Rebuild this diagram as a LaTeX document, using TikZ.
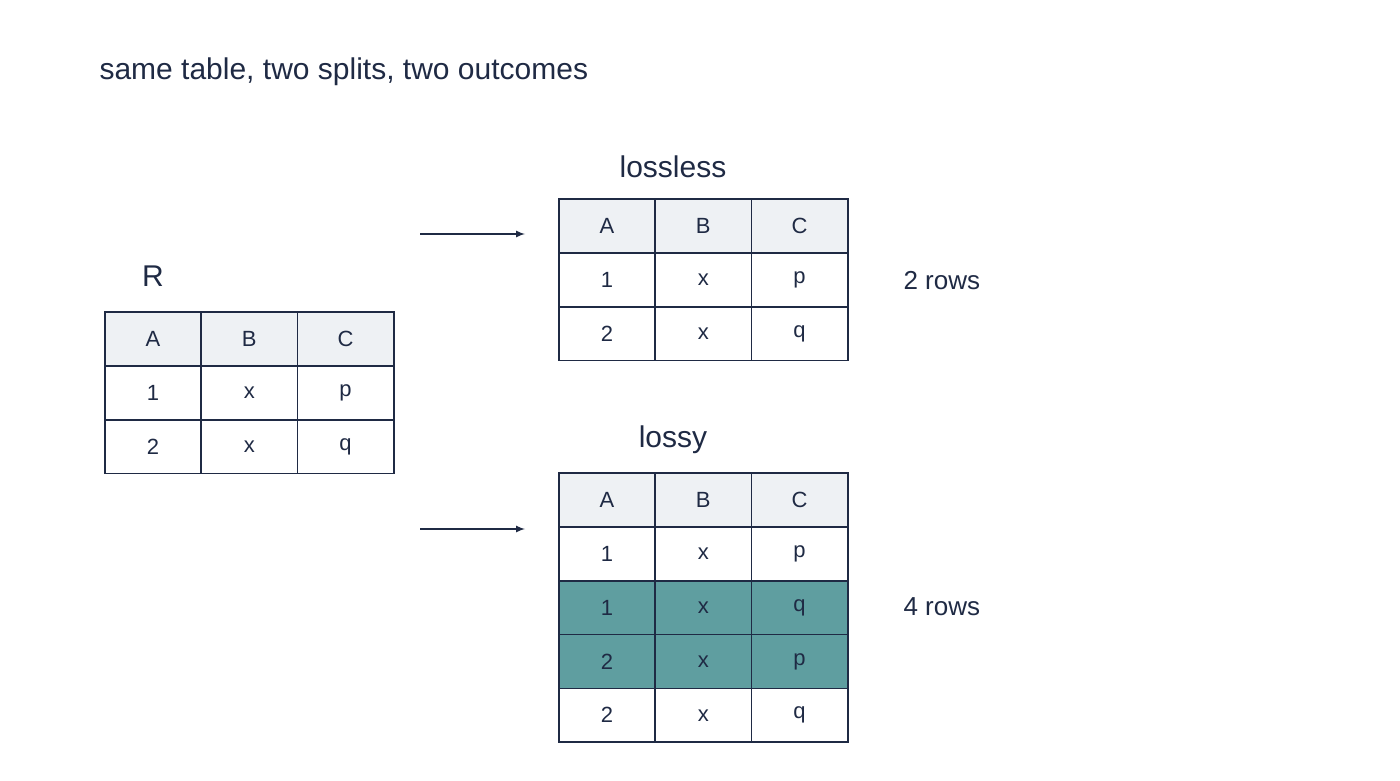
\documentclass[tikz,border=0pt]{standalone}
\usepackage{fontspec}
\setmainfont{Liberation Sans}
\usetikzlibrary{positioning}
\definecolor{ink}{HTML}{1F2A44}
\definecolor{headfill}{HTML}{EEF1F4}
\definecolor{teal}{HTML}{5F9EA0}
\begin{document}
\begin{tikzpicture}[x=1pt,y=-1pt]
		
		\tikzstyle{cell}=[rectangle,
		draw=ink,
		line width=1.6pt,
		fill=white,
		text=ink,
		inner sep=0pt,
		minimum width=96.3pt,
		minimum height=53.8pt,
		font=\fontsize{22}{24}\selectfont
		]
		\tikzstyle{head}=[cell,fill=headfill]
		\tikzstyle{bad}=[cell,fill=teal]
		\tikzstyle{label}=[text=ink,font=\fontsize{30}{34}\selectfont]
		\tikzstyle{note}=[text=ink,font=\fontsize{26}{30}\selectfont]
		
		\useasboundingbox (0,0) rectangle (1400,781);
		
		\node[label,anchor=west] (title) at (96,72) {same table, two splits, two outcomes};
		
		% table R
		\node[label] (r) at (153,276) {R};
		\foreach \c/\t [count=\i] in {A,B,C} {
			\node[head] (r0\i) at (105+48+96.3*\i-96.3,339) {\c};
		}
		\foreach \a/\b/\cc [count=\j] in {1/x/p,2/x/q} {
			\node[cell] (r\j1) at (153,339+53.8*\j) {\a};
			\node[cell] (r\j2) at (249.3,339+53.8*\j) {\b};
			\node[cell] (r\j3) at (345.6,339+53.8*\j) {\cc};
		}
		
		% lossless
		\node[label] (ll) at (673,167) {lossless};
		\foreach \c [count=\i] in {A,B,C} {
			\node[head] (l0\i) at (559+48+96.3*\i-96.3,226) {\c};
		}
		\foreach \a/\b/\cc [count=\j] in {1/x/p,2/x/q} {
			\node[cell] (l\j1) at (607,226+53.8*\j) {\a};
			\node[cell] (l\j2) at (703.3,226+53.8*\j) {\b};
			\node[cell] (l\j3) at (799.6,226+53.8*\j) {\cc};
		}
		\node[note,anchor=west] (lrows) at (900,281) {2 rows};
		
		% lossy
		\node[label] (ly) at (673,440) {lossy};
		\foreach \c [count=\i] in {A,B,C} {
			\node[head] (y0\i) at (559+48+96.3*\i-96.3,500) {\c};
		}
		\foreach \a/\b/\cc/\s [count=\j] in {1/x/p/cell,1/x/q/bad,2/x/p/bad,2/x/q/cell} {
			\node[\s] (y\j1) at (607,500+53.8*\j) {\a};
			\node[\s] (y\j2) at (703.3,500+53.8*\j) {\b};
			\node[\s] (y\j3) at (799.6,500+53.8*\j) {\cc};
		}
		\node[note,anchor=west] (yrows) at (900,607) {4 rows};
		
		\coordinate (a1s) at (420,234);
		\coordinate (a1e) at (525,234);
		\coordinate (a2s) at (420,529);
		\coordinate (a2e) at (525,529);
		\draw[->,>=latex,draw=ink,line width=2pt] (a1s) -- (a1e);
		\draw[->,>=latex,draw=ink,line width=2pt] (a2s) -- (a2e);
		
\end{tikzpicture}
\end{document}
